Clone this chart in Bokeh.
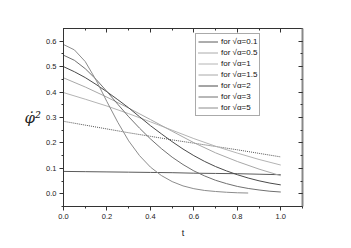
from bokeh.plotting import figure
from bokeh.models import (Range1d, LinearAxis, SingleIntervalTicker, NumeralTickFormatter,
                          Legend, LegendItem)
from bokeh.embed import file_html
from bokeh.resources import INLINE

# ---- data ----
labels = ["for \u221a\u03b1=0.1", "for \u221a\u03b1=0.5", "for \u221a\u03b1=1", "for \u221a\u03b1=1.5",
          "for \u221a\u03b1=2", "for \u221a\u03b1=3", "for \u221a\u03b1=5"]

t_coarse = [0.0, 0.1, 0.2, 0.3, 0.4, 0.5, 0.6, 0.7, 0.8, 0.9, 1.0]
t_fine = [0.0, 0.05, 0.1, 0.15, 0.2, 0.25, 0.3, 0.35, 0.4, 0.45, 0.5,
          0.55, 0.6, 0.65, 0.7, 0.75, 0.8, 0.85, 0.9, 0.95, 1.0]
t_a5 = [0.0, 0.05, 0.1, 0.15, 0.2, 0.25, 0.3, 0.35, 0.4, 0.45, 0.5,
        0.55, 0.6, 0.65, 0.7, 0.75, 0.8, 0.85]

y_a01 = [0.088, 0.087, 0.086, 0.085, 0.084, 0.083, 0.081, 0.080, 0.079, 0.077, 0.075]
y_a05 = [0.285, 0.270, 0.255, 0.240, 0.226, 0.212, 0.199, 0.186, 0.173, 0.159, 0.145]
y_a1 = [0.398, 0.372, 0.345, 0.315, 0.283, 0.250, 0.217, 0.187, 0.160, 0.135, 0.113]
y_a15 = [0.456, 0.420, 0.380, 0.337, 0.292, 0.246, 0.201, 0.161, 0.127, 0.097, 0.071]
y_a2 = [0.500, 0.480, 0.457, 0.430, 0.401, 0.370, 0.338, 0.303, 0.268, 0.236, 0.205,
        0.176, 0.150, 0.127, 0.107, 0.090, 0.075, 0.062, 0.051, 0.042, 0.035]
y_a3 = [0.545, 0.525, 0.492, 0.450, 0.402, 0.352, 0.303, 0.258, 0.216, 0.178, 0.144,
        0.115, 0.090, 0.070, 0.053, 0.040, 0.029, 0.021, 0.015, 0.010, 0.007]
y_a5 = [0.587, 0.566, 0.520, 0.447, 0.362, 0.281, 0.208, 0.150, 0.105, 0.072, 0.048,
        0.031, 0.020, 0.013, 0.009, 0.006, 0.004, 0.003]

series = [
    (t_coarse, y_a01, "#5a5a5a", "solid"),
    (t_coarse, y_a05, "#555555", "1 1"),
    (t_coarse, y_a1, "#b4b4b4", "solid"),
    (t_coarse, y_a15, "#a8a8a8", "solid"),
    (t_fine, y_a2, "#4a4a4a", "solid"),
    (t_fine, y_a3, "#707070", "solid"),
    (t_a5, y_a5, "#8c8c8c", "solid"),
]

x_ticks_interval = 0.2
y_ticks_interval = 0.1

p = figure(frame_width=239, frame_height=178, output_backend="svg", toolbar_location=None,
           x_range=Range1d(0, 1.1), y_range=Range1d(-0.05, 0.65),
           min_border_left=63, min_border_right=30, min_border_top=28, min_border_bottom=26)
p.background_fill_color = "white"
p.border_fill_color = "white"
p.outline_line_color = "#333333"
p.xgrid.visible = False
p.ygrid.visible = False

items = []
for (tx, yy, col, dash), lab in zip(series, labels):
    r = p.line(tx, yy, line_color=col, line_width=1, line_dash=dash)
    items.append(LegendItem(label=lab, renderers=[r]))

font = "Liberation Sans"

def style_axis(ax, show_labels, inward):
    ax.axis_line_color = "#333333"
    ax.major_tick_line_color = "#333333"
    ax.minor_tick_line_color = "#333333"
    if inward:
        ax.major_tick_in = 4
        ax.major_tick_out = 0
        ax.minor_tick_in = 2
        ax.minor_tick_out = 0
    else:
        ax.major_tick_in = 0
        ax.major_tick_out = 4
        ax.minor_tick_in = 0
        ax.minor_tick_out = 2
    ax.major_label_text_font = font
    ax.major_label_text_font_size = "7.5px"
    ax.major_label_text_color = "#222222" if show_labels else None
    ax.major_label_standoff = 3

xa = p.xaxis[0]
xa.ticker = SingleIntervalTicker(interval=x_ticks_interval, num_minor_ticks=2)
xa.formatter = NumeralTickFormatter(format="0.0")
style_axis(xa, True, False)
xa.axis_label = "t"
xa.axis_label_text_font = font
xa.axis_label_text_font_style = "normal"
xa.axis_label_text_font_size = "9px"
xa.axis_label_text_color = "#222222"
xa.axis_label_standoff = 6

ya = p.yaxis[0]
ya.ticker = SingleIntervalTicker(interval=y_ticks_interval, num_minor_ticks=2)
ya.formatter = NumeralTickFormatter(format="0.0")
style_axis(ya, True, False)
ya.axis_label = "\u03c6\u0307\u00b2"
ya.axis_label_orientation = "horizontal"
ya.axis_label_text_font = "DejaVu Serif"
ya.axis_label_text_font_style = "italic"
ya.axis_label_text_font_size = "15px"
ya.axis_label_text_color = "#222222"
ya.axis_label_standoff = 2

top = LinearAxis(ticker=SingleIntervalTicker(interval=x_ticks_interval, num_minor_ticks=2))
style_axis(top, False, True)
top.major_label_text_font_size = "0px"
top.major_label_standoff = 0
p.add_layout(top, "above")

right = LinearAxis(ticker=SingleIntervalTicker(interval=y_ticks_interval, num_minor_ticks=2))
style_axis(right, False, True)
right.major_label_text_font_size = "0px"
right.major_label_standoff = 0
right.axis_line_color = "#888888"
right.axis_line_width = 2
p.add_layout(right, "right")

legend = Legend(items=items, location=(132, 90), label_text_font=font,
                label_text_font_size="8px", label_text_color="#111111",
                label_height=11, glyph_height=11,
                glyph_width=20, label_standoff=3, spacing=0, padding=2, margin=0,
                border_line_color="#555555", border_line_width=1,
                background_fill_alpha=1.0)
p.add_layout(legend)

open("out.html", "w").write(file_html(p, INLINE))
